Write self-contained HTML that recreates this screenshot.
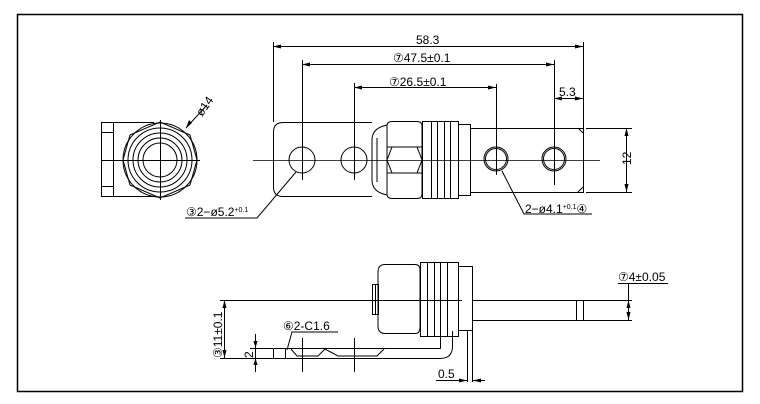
<!DOCTYPE html>
<html><head><style>
body{margin:0;background:#fff;}
svg{display:block;}
text{font-family:"Liberation Sans",sans-serif;font-size:12px;fill:#000;}
</style></head><body>
<svg width="760" height="404" viewBox="0 0 760 404" xmlns="http://www.w3.org/2000/svg">
<g fill="none" stroke="#000" stroke-width="1">
<rect x="17.5" y="14.5" width="725" height="377" stroke-width="1.5"/>
<rect x="101.5" y="122.5" width="52" height="74"/>
<line x1="113.5" y1="122" x2="113.5" y2="197"/>
<line x1="101" y1="132.5" x2="113" y2="132.5"/>
<line x1="101" y1="186.5" x2="113" y2="186.5"/>
<circle cx="160" cy="160" r="37" fill="#fff"/>
<polygon points="160,122 190,135 197,160 190,185 160,198 130,185 123,160 130,135"/>
<circle cx="160" cy="160" r="32"/>
<circle cx="160" cy="160" r="27"/>
<circle cx="160" cy="160" r="22"/>
<circle cx="160" cy="160" r="17"/>
<line x1="101" y1="160.5" x2="200" y2="160.5"/>
<line x1="160.5" y1="120" x2="160.5" y2="200"/>
<line x1="186" y1="128" x2="207" y2="105"/>
<path d="M372 122.5 H283 Q273.5 122.5 273.5 132 V187 Q273.5 196.5 283 196.5 H372"/>
<path d="M470 128.5 H583.5 V192.5 H470"/>
<line x1="578" y1="128" x2="583" y2="133"/><line x1="578" y1="192" x2="583" y2="187"/>
<circle cx="302" cy="160" r="13"/>
<circle cx="354" cy="160" r="13"/>
<circle cx="496" cy="159" r="12"/><circle cx="496" cy="159" r="10.5"/>
<circle cx="554" cy="159" r="12"/><circle cx="554" cy="159" r="10.5"/>
<path d="M387 125 Q372 128 372 140 V180 Q372 192 387 195"/>
<path d="M377 138 V182"/>
<path d="M392 121.5 H417 Q422 121.5 422 126 V194 Q422 198.5 417 198.5 H392 Q387 198.5 387 194 V126 Q387 121.5 392 121.5 Z"/>
<line x1="387" y1="147" x2="422" y2="147"/><line x1="387" y1="173" x2="422" y2="173"/>
<path d="M392 147 L387 160 L392 173 M417 147 L422 160 L417 173"/>
<rect x="422.5" y="121.5" width="36" height="77"/>
<line x1="431.5" y1="122" x2="431.5" y2="198"/><line x1="437.5" y1="122" x2="437.5" y2="198"/><line x1="444.5" y1="122" x2="444.5" y2="198"/><line x1="450.5" y1="122" x2="450.5" y2="198"/>
<rect x="458.5" y="124.5" width="12" height="71"/>
<line x1="253" y1="160.5" x2="600" y2="160.5" stroke-width="0.8"/>
<line x1="302.5" y1="60" x2="302.5" y2="180"/>
<line x1="354.5" y1="83" x2="354.5" y2="180"/>
<line x1="496.5" y1="84" x2="496.5" y2="175"/>
<line x1="554.5" y1="60" x2="554.5" y2="185"/>
<line x1="273.5" y1="42" x2="273.5" y2="122"/>
<line x1="583.5" y1="42" x2="583.5" y2="128"/>
<line x1="273" y1="46.5" x2="583" y2="46.5"/>
<line x1="302" y1="64.5" x2="554" y2="64.5"/>
<line x1="354" y1="87.5" x2="496" y2="87.5"/>
<line x1="554" y1="98.5" x2="583" y2="98.5"/>
<line x1="586" y1="128.5" x2="632" y2="128.5"/>
<line x1="586" y1="192.5" x2="632" y2="192.5"/>
<line x1="626.5" y1="128" x2="626.5" y2="192"/>
<polyline points="296,172 257,218 185,218"/>
<polyline points="502,171 524,214 592,214"/>
<path d="M385 264.5 H415 Q420 264.5 420 270 V328 Q420 333.5 415 333.5 H385 Q378 333.5 378 326 V272 Q378 264.5 385 264.5 Z"/>
<rect x="372.5" y="284.5" width="6" height="30"/>
<line x1="375.5" y1="285" x2="375.5" y2="314"/>
<rect x="420.5" y="262.5" width="38" height="74"/>
<line x1="427.5" y1="262" x2="427.5" y2="337"/><line x1="434.5" y1="262" x2="434.5" y2="337"/><line x1="440.5" y1="262" x2="440.5" y2="337"/><line x1="447.5" y1="262" x2="447.5" y2="337"/>
<rect x="458.5" y="266.5" width="14" height="64"/>
<line x1="220" y1="300.5" x2="462" y2="300.5"/>
<line x1="472" y1="300.5" x2="632" y2="300.5"/>
<line x1="472" y1="320.5" x2="632" y2="320.5"/>
<line x1="472.5" y1="300" x2="472.5" y2="382"/>
<line x1="467.5" y1="330" x2="467.5" y2="382"/>
<line x1="576.5" y1="300" x2="576.5" y2="321"/><line x1="583.5" y1="300" x2="583.5" y2="321"/>
<path d="M273.5 348.5 H440.5 V337 M273.5 348.5 V358.5 H440 Q452.5 358.5 452.5 346 V331"/>
<line x1="285.5" y1="348" x2="285.5" y2="358"/>
<path d="M291 349 L297 356 H318 L325 349 L338 356 H377 L384 349"/>
<line x1="302.5" y1="338" x2="302.5" y2="372"/>
<line x1="354.5" y1="338" x2="354.5" y2="372"/>
<line x1="224.5" y1="300" x2="224.5" y2="358"/>
<line x1="220" y1="358.5" x2="273" y2="358.5"/>
<line x1="255.5" y1="334" x2="255.5" y2="372"/>
<line x1="250" y1="348.5" x2="273" y2="348.5"/>
<polyline points="287,350 292,332 338,332"/>
<line x1="436" y1="380.5" x2="467" y2="380.5"/>
<line x1="473" y1="380.5" x2="485" y2="380.5"/>
<polyline points="618,283.5 668,283.5"/>
<line x1="628.5" y1="283" x2="628.5" y2="321"/>
</g>
<g fill="#000">
<polygon points="273,46.5 281,44.5 281,48.5"/><polygon points="583,46.5 575,44.5 575,48.5"/>
<polygon points="302,64.5 310,62.5 310,66.5"/><polygon points="554,64.5 546,62.5 546,66.5"/>
<polygon points="354,87.5 362,85.5 362,89.5"/><polygon points="496,87.5 488,85.5 488,89.5"/>
<polygon points="554,98.5 562,96.5 562,100.5"/><polygon points="583,98.5 575,96.5 575,100.5"/>
<polygon points="626.5,128 624.5,136 628.5,136"/><polygon points="626.5,192 624.5,184 628.5,184"/>
<polygon points="224.5,300 222.5,308 226.5,308"/><polygon points="224.5,358 222.5,350 226.5,350"/>
<polygon points="628.5,300 626.5,308 630.5,308"/><polygon points="628.5,320 626.5,312 630.5,312"/>
<polygon points="467,380.5 459,378.5 459,382.5"/><polygon points="473,380.5 481,378.5 481,382.5"/>
<polygon points="255.5,348 253.5,341 257.5,341"/><polygon points="255.5,358 253.5,365 257.5,365"/>
<polygon points="186,128 189,120 192,123"/>
</g>
<text x="416" y="44">58.3</text>
<text x="393" y="62">⑦47.5±0.1</text>
<text x="389" y="86">⑦26.5±0.1</text>
<text x="559" y="96">5.3</text>
<text x="186" y="216">③2−ø5.2<tspan font-size="7" dy="-4">+0.1</tspan></text>
<text x="525" y="213">2−ø4.1<tspan font-size="7" dy="-4">+0.1</tspan><tspan dy="4">④</tspan></text>
<text x="0" y="0" transform="translate(631,165) rotate(-90)">12</text>
<text x="0" y="0" transform="translate(202,117) rotate(-55)">ø14</text>
<text x="618" y="281">⑦4±0.05</text>
<text x="283" y="330">⑥2-C1.6</text>
<text x="438" y="378">0.5</text>
<text x="0" y="0" transform="translate(222,358) rotate(-90)">③11±0.1</text>
<text x="0" y="0" transform="translate(253,358) rotate(-90)">2</text>
</svg>
</body></html>
